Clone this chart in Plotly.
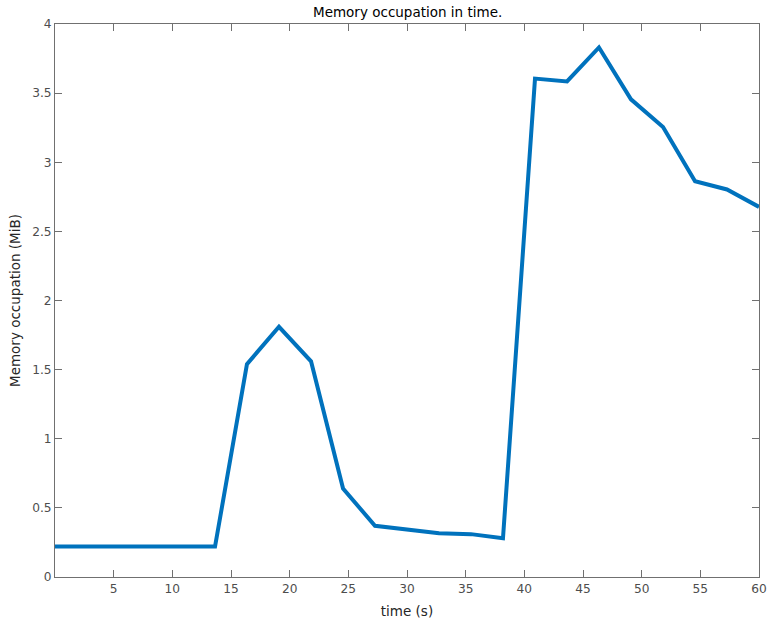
import plotly.graph_objects as go

# Sample times (s) and memory occupation (MiB)
time_s = [0.0, 2.73, 5.45, 8.18, 10.91, 13.64, 16.36, 19.09, 21.82, 24.55, 27.27,
          30.0, 32.73, 35.45, 38.18, 40.91, 43.64, 46.36, 49.09, 51.82, 54.55,
          57.27, 60.0]
memory_mib = [0.22, 0.22, 0.22, 0.22, 0.22, 0.22, 1.54, 1.81, 1.56, 0.64, 0.37,
              0.343, 0.316, 0.31, 0.28, 3.605, 3.585, 3.83, 3.455, 3.255, 2.863,
              2.803, 2.677]

x_ticks = [5, 10, 15, 20, 25, 30, 35, 40, 45, 50, 55, 60]
y_ticks = [0, 0.5, 1, 1.5, 2, 2.5, 3, 3.5, 4]
y_tick_text = ["0", "0.5", "1", "1.5", "2", "2.5", "3", "3.5", "4"]

FONT = "DejaVu Sans, Liberation Sans, sans-serif"
AXIS_COLOR = "#707070"
TEXT_COLOR = "#262626"
TICK_COLOR = "#4d4d4d"
TICK_SIZE = 12.2
LABEL_SIZE = 13.5

fig = go.Figure()
fig.add_trace(go.Scatter(
    x=time_s, y=memory_mib, mode="lines",
    line=dict(color="#0072BD", width=4),
    hoverinfo="skip", showlegend=False,
))

axis_common = dict(
    showline=True, linecolor=AXIS_COLOR, linewidth=1, mirror="ticks",
    ticks="inside", ticklen=7, tickwidth=1, tickcolor=AXIS_COLOR,
    showgrid=False, zeroline=False, automargin=False,
    tickfont=dict(family=FONT, size=TICK_SIZE, color=TICK_COLOR),
)

fig.update_layout(
    width=772, height=626,
    margin=dict(l=55, r=13, t=24, b=49, pad=0, autoexpand=False),
    paper_bgcolor="white", plot_bgcolor="white",
    font=dict(family=FONT, size=TICK_SIZE, color=TEXT_COLOR),
    xaxis=dict(
        range=[0, 60], tickvals=x_ticks,
        title=dict(text="time (s)", standoff=11,
                   font=dict(family=FONT, size=LABEL_SIZE, color=TEXT_COLOR)),
        **axis_common,
    ),
    yaxis=dict(
        range=[0, 4], tickvals=y_ticks, ticktext=y_tick_text,
        title=dict(text="Memory occupation (MiB)", standoff=8,
                   font=dict(family=FONT, size=LABEL_SIZE, color=TEXT_COLOR)),
        **axis_common,
    ),
    annotations=[dict(
        text="Memory occupation in time.",
        x=0.5, xref="paper", xanchor="center",
        y=1.0, yref="paper", yanchor="bottom", yshift=2,
        showarrow=False,
        font=dict(family=FONT, size=LABEL_SIZE, color="#000000"),
    )],
)

fig.write_html("out.html")
